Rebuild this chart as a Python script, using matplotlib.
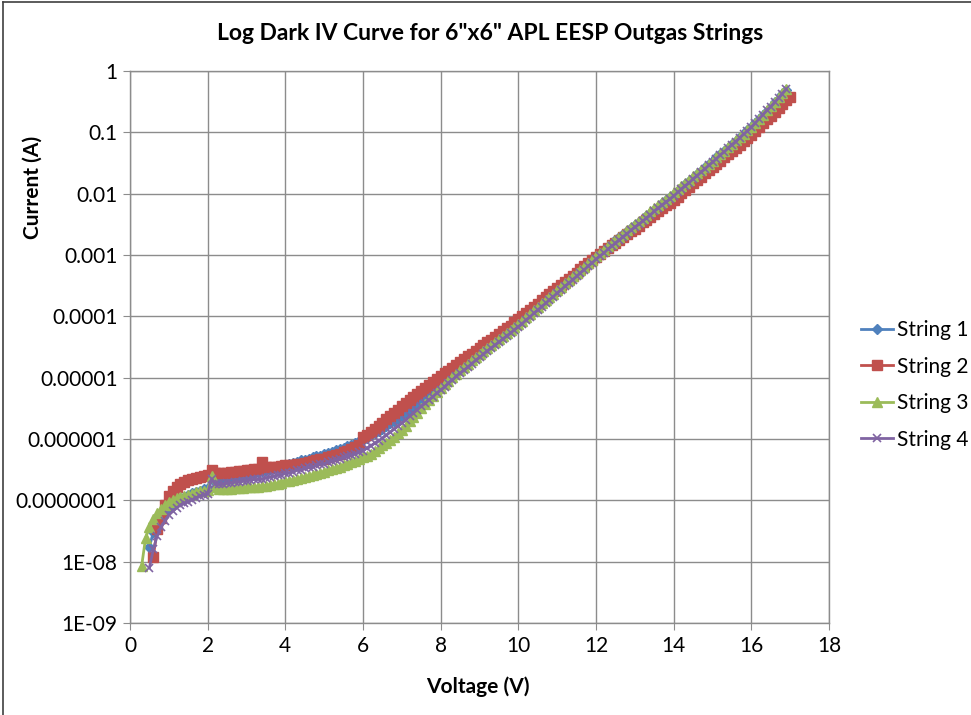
import matplotlib
matplotlib.use("Agg")
import matplotlib.pyplot as plt
from matplotlib.lines import Line2D
import numpy as np

plt.rcParams["font.family"] = ["Lato", "DejaVu Sans"]

# Forward-bias sweep voltages (V), shared by all four strings
VOLTAGE = [
    0.3, 0.4, 0.5, 0.6, 0.7, 0.8, 0.9,
    1.0, 1.1, 1.2, 1.3, 1.4, 1.5, 1.6, 1.7, 1.8, 1.9,
    2.0, 2.1, 2.2, 2.3, 2.4, 2.5, 2.6, 2.7, 2.8, 2.9,
    3.0, 3.1, 3.2, 3.3, 3.4, 3.5, 3.6, 3.7, 3.8, 3.9,
    4.0, 4.1, 4.2, 4.3, 4.4, 4.5, 4.6, 4.7, 4.8, 4.9,
    5.0, 5.1, 5.2, 5.3, 5.4, 5.5, 5.6, 5.7, 5.8, 5.9,
    6.0, 6.1, 6.2, 6.3, 6.4, 6.5, 6.6, 6.7, 6.8, 6.9,
    7.0, 7.1, 7.2, 7.3, 7.4, 7.5, 7.6, 7.7, 7.8, 7.9,
    8.0, 8.1, 8.2, 8.3, 8.4, 8.5, 8.6, 8.7, 8.8, 8.9,
    9.0, 9.1, 9.2, 9.3, 9.4, 9.5, 9.6, 9.7, 9.8, 9.9,
    10.0, 10.1, 10.2, 10.3, 10.4, 10.5, 10.6, 10.7, 10.8, 10.9,
    11.0, 11.1, 11.2, 11.3, 11.4, 11.5, 11.6, 11.7, 11.8, 11.9,
    12.0, 12.1, 12.2, 12.3, 12.4, 12.5, 12.6, 12.7, 12.8, 12.9,
    13.0, 13.1, 13.2, 13.3, 13.4, 13.5, 13.6, 13.7, 13.8, 13.9,
    14.0, 14.1, 14.2, 14.3, 14.4, 14.5, 14.6, 14.7, 14.8, 14.9,
    15.0, 15.1, 15.2, 15.3, 15.4, 15.5, 15.6, 15.7, 15.8, 15.9,
    16.0, 16.1, 16.2, 16.3, 16.4, 16.5, 16.6, 16.7, 16.8, 16.9,
    17.0,
]

# Dark current per string, log10(I / A); None where the string was not measured
LOG_I_STRING1 = [
    None, None, -7.76, -7.52, -7.38, -7.27, -7.19,
    -7.12, -7.06, -7.01, -6.97, -6.94, -6.91, -6.88, -6.86, -6.84, -6.82,
    -6.80, -6.63, -6.70, -6.69, -6.68, -6.66, -6.65, -6.63, -6.62, -6.60,
    -6.58, -6.57, -6.55, -6.54, -6.52, -6.50, -6.49, -6.47, -6.45, -6.44,
    -6.42, -6.40, -6.39, -6.37, -6.35, -6.34, -6.32, -6.30, -6.28, -6.27,
    -6.25, -6.23, -6.21, -6.18, -6.16, -6.14, -6.11, -6.09, -6.06, -6.04,
    -6.01, -5.98, -5.94, -5.91, -5.87, -5.83, -5.79, -5.74, -5.70, -5.65,
    -5.61, -5.56, -5.51, -5.46, -5.40, -5.35, -5.30, -5.24, -5.19, -5.14,
    -5.09, -5.04, -4.99, -4.94, -4.89, -4.84, -4.79, -4.74, -4.69, -4.64,
    -4.59, -4.54, -4.49, -4.44, -4.39, -4.34, -4.30, -4.25, -4.20, -4.15,
    -4.10, -4.05, -3.99, -3.94, -3.88, -3.83, -3.78, -3.72, -3.67, -3.61,
    -3.56, -3.51, -3.45, -3.40, -3.34, -3.29, -3.23, -3.18, -3.12, -3.07,
    -3.02, -2.97, -2.92, -2.87, -2.82, -2.76, -2.71, -2.66, -2.61, -2.56,
    -2.51, -2.46, -2.41, -2.36, -2.31, -2.26, -2.21, -2.16, -2.11, -2.06,
    -2.01, -1.96, -1.90, -1.85, -1.79, -1.74, -1.68, -1.63, -1.57, -1.52,
    -1.47, -1.41, -1.36, -1.30, -1.25, -1.19, -1.14, -1.08, -1.03, -0.97,
    -0.92, -0.85, -0.78, -0.72, -0.65, -0.58, -0.51, -0.45, -0.38, -0.31,
    None,
]

LOG_I_STRING2 = [
    None, None, None, -7.92, -7.47, -7.29, -7.08,
    -6.93, -6.85, -6.79, -6.74, -6.70, -6.67, -6.65, -6.63, -6.62, -6.60,
    -6.58, -6.51, -6.55, -6.56, -6.55, -6.55, -6.54, -6.53, -6.52, -6.52,
    -6.51, -6.50, -6.49, -6.49, -6.37, -6.46, -6.46, -6.45, -6.45, -6.44,
    -6.43, -6.43, -6.42, -6.41, -6.40, -6.39, -6.37, -6.36, -6.35, -6.33,
    -6.32, -6.30, -6.28, -6.26, -6.24, -6.22, -6.19, -6.16, -6.13, -6.09,
    -5.97, -5.94, -5.89, -5.84, -5.79, -5.74, -5.68, -5.63, -5.58, -5.52,
    -5.47, -5.42, -5.37, -5.32, -5.27, -5.22, -5.17, -5.12, -5.07, -5.02,
    -4.98, -4.93, -4.89, -4.84, -4.79, -4.75, -4.70, -4.65, -4.61, -4.56,
    -4.52, -4.47, -4.42, -4.38, -4.33, -4.29, -4.24, -4.19, -4.15, -4.10,
    -4.05, -4.00, -3.95, -3.90, -3.85, -3.80, -3.74, -3.69, -3.64, -3.59,
    -3.54, -3.49, -3.44, -3.39, -3.34, -3.29, -3.23, -3.18, -3.13, -3.08,
    -3.03, -2.98, -2.94, -2.89, -2.84, -2.80, -2.75, -2.70, -2.66, -2.61,
    -2.57, -2.52, -2.47, -2.43, -2.38, -2.33, -2.29, -2.24, -2.19, -2.15,
    -2.10, -2.05, -1.99, -1.94, -1.89, -1.83, -1.78, -1.73, -1.67, -1.62,
    -1.57, -1.52, -1.46, -1.41, -1.36, -1.30, -1.25, -1.20, -1.14, -1.09,
    -1.04, -0.98, -0.91, -0.85, -0.79, -0.73, -0.67, -0.60, -0.54, -0.48,
    -0.42,
]

LOG_I_STRING3 = [
    -8.07, -7.62, -7.43, -7.30, -7.21, -7.14, -7.08,
    -7.03, -7.00, -6.97, -6.95, -6.93, -6.91, -6.89, -6.87, -6.85, -6.84,
    -6.83, -6.61, -6.79, -6.81, -6.81, -6.81, -6.81, -6.80, -6.80, -6.80,
    -6.79, -6.79, -6.78, -6.78, -6.77, -6.76, -6.75, -6.74, -6.73, -6.71,
    -6.69, -6.68, -6.67, -6.65, -6.64, -6.62, -6.60, -6.59, -6.57, -6.55,
    -6.53, -6.51, -6.49, -6.47, -6.45, -6.43, -6.41, -6.38, -6.36, -6.33,
    -6.30, -6.27, -6.24, -6.20, -6.15, -6.10, -6.06, -6.01, -5.96, -5.91,
    -5.85, -5.78, -5.71, -5.64, -5.57, -5.50, -5.43, -5.36, -5.30, -5.23,
    -5.17, -5.11, -5.05, -4.99, -4.94, -4.88, -4.83, -4.78, -4.72, -4.67,
    -4.62, -4.57, -4.52, -4.47, -4.42, -4.37, -4.32, -4.27, -4.22, -4.17,
    -4.12, -4.07, -4.01, -3.96, -3.90, -3.85, -3.79, -3.74, -3.68, -3.63,
    -3.57, -3.52, -3.46, -3.41, -3.35, -3.30, -3.24, -3.19, -3.13, -3.08,
    -3.02, -2.97, -2.92, -2.86, -2.81, -2.76, -2.71, -2.65, -2.60, -2.55,
    -2.50, -2.45, -2.40, -2.34, -2.29, -2.24, -2.19, -2.14, -2.08, -2.03,
    -1.98, -1.93, -1.88, -1.82, -1.77, -1.72, -1.67, -1.61, -1.56, -1.51,
    -1.46, -1.40, -1.35, -1.30, -1.24, -1.19, -1.13, -1.08, -1.02, -0.97,
    -0.91, -0.84, -0.78, -0.71, -0.64, -0.57, -0.50, -0.43, -0.36, -0.29,
    None,
]

LOG_I_STRING4 = [
    None, None, -8.10, -7.80, -7.58, -7.44, -7.33,
    -7.24, -7.18, -7.12, -7.08, -7.05, -7.02, -6.99, -6.96, -6.93, -6.91,
    -6.89, -6.65, -6.74, -6.74, -6.73, -6.72, -6.71, -6.70, -6.70, -6.69,
    -6.68, -6.67, -6.66, -6.66, -6.65, -6.63, -6.62, -6.61, -6.59, -6.58,
    -6.56, -6.55, -6.53, -6.51, -6.50, -6.48, -6.46, -6.45, -6.43, -6.41,
    -6.40, -6.38, -6.36, -6.34, -6.32, -6.30, -6.28, -6.26, -6.24, -6.22,
    -6.19, -6.15, -6.11, -6.07, -6.03, -5.99, -5.94, -5.89, -5.84, -5.79,
    -5.74, -5.69, -5.63, -5.58, -5.52, -5.47, -5.42, -5.36, -5.31, -5.25,
    -5.20, -5.15, -5.09, -5.04, -4.98, -4.93, -4.88, -4.83, -4.77, -4.72,
    -4.67, -4.62, -4.57, -4.52, -4.47, -4.42, -4.37, -4.32, -4.27, -4.22,
    -4.17, -4.12, -4.06, -4.01, -3.95, -3.90, -3.84, -3.79, -3.73, -3.68,
    -3.62, -3.57, -3.51, -3.46, -3.40, -3.35, -3.29, -3.24, -3.18, -3.13,
    -3.07, -3.02, -2.97, -2.91, -2.86, -2.81, -2.76, -2.70, -2.65, -2.60,
    -2.55, -2.50, -2.45, -2.40, -2.35, -2.29, -2.24, -2.19, -2.14, -2.09,
    -2.04, -1.98, -1.93, -1.87, -1.82, -1.76, -1.71, -1.65, -1.60, -1.54,
    -1.49, -1.43, -1.37, -1.32, -1.26, -1.20, -1.15, -1.09, -1.03, -0.98,
    -0.92, -0.85, -0.78, -0.71, -0.64, -0.58, -0.51, -0.44, -0.37, -0.30,
    None,
]

SERIES_NAMES = ["String 1", "String 2", "String 3", "String 4"]
X_TICKS = [0, 2, 4, 6, 8, 10, 12, 14, 16, 18]
Y_TICKS = [1, 0.1, 0.01, 0.001, 0.0001, 0.00001, 0.000001, 0.0000001, 1e-8, 1e-9]
Y_TICK_LABELS = ["1", "0.1", "0.01", "0.001", "0.0001", "0.00001",
                 "0.000001", "0.0000001", "1E-08", "1E-09"]

STYLES = [
    dict(color="#4F81BD", marker="D", markersize=5.5),
    dict(color="#C0504D", marker="s", markersize=6.5),
    dict(color="#9BBB59", marker="^", markersize=7.5),
    dict(color="#8064A2", marker="x", markersize=6, markeredgewidth=1.2),
]

W, H = 971, 715
fig = plt.figure(figsize=(W / 100, H / 100), dpi=100)
ax = fig.add_axes([130 / W, 1 - 623 / H, (829 - 130) / W, (623 - 71) / H])

volts = np.array(VOLTAGE, dtype=float)
for name, logs, st in zip(SERIES_NAMES,
                          [LOG_I_STRING1, LOG_I_STRING2, LOG_I_STRING3, LOG_I_STRING4],
                          STYLES):
    logi = np.array([np.nan if v is None else v for v in logs], dtype=float)
    ax.plot(volts, 10.0 ** logi, label=name, linewidth=2, **st)

ax.set_yscale("log")
ax.set_xlim(0, 18)
ax.set_ylim(1e-9, 1)
ax.set_xticks(X_TICKS)
ax.set_xticklabels([str(t) for t in X_TICKS])
ax.set_yticks(Y_TICKS)
ax.set_yticklabels(Y_TICK_LABELS)
ax.yaxis.set_minor_locator(matplotlib.ticker.NullLocator())

grid_c = "#8C8C8C"
ax.grid(True, color=grid_c, linewidth=1)
ax.set_axisbelow(True)
for sp in ax.spines.values():
    sp.set_color(grid_c)
    sp.set_linewidth(1)
ax.tick_params(axis="both", which="major", direction="out", length=5,
               color=grid_c, labelsize=15, labelcolor="black", pad=4)

fig.text(490 / W, 1 - 33 / H, 'Log Dark IV Curve for 6"x6" APL EESP Outgas Strings',
         ha="center", va="center", fontsize=16.5, fontweight="bold")
fig.text(478 / W, 1 - 687 / H, "Voltage (V)", ha="center", va="center",
         fontsize=15, fontweight="bold")
fig.text(33 / W, 1 - 187 / H, "Current (A)", ha="center", va="center",
         rotation=90, fontsize=15, fontweight="bold")

leg = ax.legend(loc="center left", bbox_to_anchor=(853 / W, 1 - 385 / H),
                bbox_transform=fig.transFigure, frameon=False, fontsize=15,
                numpoints=1, handlelength=1.5, handletextpad=0.2,
                labelspacing=0.79, borderaxespad=0)

# chart-area border (left and top edges)
fig.add_artist(Line2D([3 / W, 3 / W], [0, 1 - 2 / H], transform=fig.transFigure,
                      color="#404040", linewidth=1.2))
fig.add_artist(Line2D([3 / W, 1], [1 - 2 / H, 1 - 2 / H], transform=fig.transFigure,
                      color="#404040", linewidth=1.2))

fig.savefig("out.png", dpi=100)
